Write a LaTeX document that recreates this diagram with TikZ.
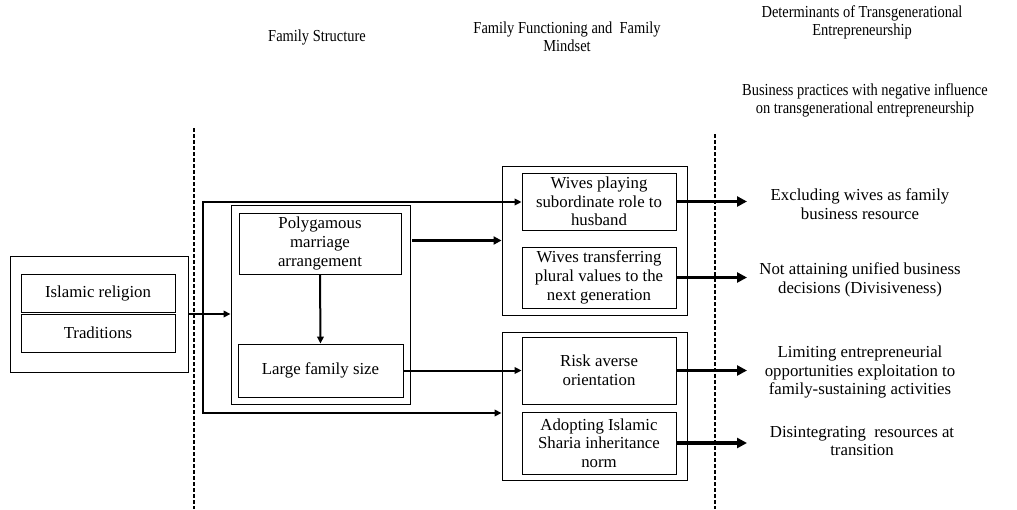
\documentclass[tikz,border=0pt]{standalone}
\usepackage{fontspec}
\setmainfont{Liberation Serif}
\usetikzlibrary{arrows.meta}
\newcommand{\hdrtext}[1]{\scalebox{0.86}[1]{\begin{tabular}{@{}c@{}}#1\end{tabular}}}
\begin{document}
\begin{tikzpicture}[x=1pt,y=-1pt,
  txt/.style={font=\fontsize{16.8}{18.7}\selectfont, align=center, inner sep=0pt},
  hdr/.style={font=\fontsize{16.8}{18.2}\selectfont, inner sep=0pt},
  frame/.style={draw, line width=0.9pt, inner sep=0pt},
  boxnode/.style={draw, line width=0.8pt, txt, minimum width=#1},
  divider/.style={line width=1.1pt, dash pattern=on 4pt off 2pt},
  thin arrow/.style={line width=2pt, -{Triangle[length=7pt,width=6.5pt]}},
  mid arrow/.style={line width=2.8pt, -{Triangle[length=8pt,width=8pt]}},
  bracket/.style={line width=2pt},
  thick arrow/.style={line width=3.2pt, -{Triangle[length=10pt,width=10pt]}}]
\useasboundingbox (0,0) rectangle (1017,509);

% column headings
\node[hdr] (h1) at (317,38) {\hdrtext{Family Structure}};
\node[hdr] (h2) at (567,39) {\hdrtext{Family Functioning and\ \ Family\\Mindset}};
\node[hdr] (h3) at (862,23) {\hdrtext{Determinants of Transgenerational\\Entrepreneurship}};
\node[hdr] (h4) at (865,101) {\hdrtext{Business practices with negative influence\\on transgenerational entrepreneurship}};

% column dividers
\draw[divider] (194,128) -- (194,509);
\draw[divider] (715,134) -- (715,509);

% antecedents
\node[frame, minimum width=178pt, minimum height=116pt] (src) at (99,314) {};
\node[boxnode=154pt, minimum height=38pt] (islam) at (98,293) {Islamic religion};
\node[boxnode=154pt, minimum height=38pt] (trad) at (98,333) {Traditions};

% family structure
\node[frame, minimum width=179pt, minimum height=199pt] (fs) at (320.5,304.5) {};
\node[boxnode=162pt, minimum height=61pt] (poly) at (320,243.5) {Polygamous\\marriage\\arrangement};
\node[boxnode=165pt, minimum height=53pt] (large) at (320.5,370.5) {Large family size};

% family functioning and mindset
\node[frame, minimum width=185pt, minimum height=149pt] (upper) at (594.5,240.5) {};
\node[boxnode=154pt, minimum height=57pt] (wpl) at (599,201.5) {Wives playing\\subordinate role to\\husband};
\node[boxnode=154pt, minimum height=61pt] (wtr) at (599,277.5) {Wives transferring\\plural values to the\\next generation};
\node[frame, minimum width=185pt, minimum height=148pt] (lower) at (594.5,406) {};
\node[boxnode=154pt, minimum height=67pt] (risk) at (599,370.5) {Risk averse\\orientation};
\node[boxnode=154pt, minimum height=62pt] (adopt) at (599,443) {Adopting Islamic\\Sharia inheritance\\norm};

% outcomes
\node[txt] (o1) at (860,204) {Excluding wives as family\\business resource};
\node[txt] (o2) at (860,280) {Not attaining unified business\\decisions (Divisiveness)};
\node[txt] (o3) at (860,372) {Limiting entrepreneurial\\opportunities exploitation to\\family-sustaining activities};
\node[txt] (o4) at (862,441) {Disintegrating\ \ resources at\\transition};

% connectors
\coordinate (bt) at (203,202);
\coordinate (bb) at (203,413);
\coordinate (tipx) at (747,0);

\draw[thin arrow] (src.east) -- (src.east -| fs.west);
\draw[bracket] (bt) -- (bb);
\draw[thin arrow] ([xshift=-1pt]bt) -- (bt -| wpl.west);
\draw[thin arrow] ([xshift=-1pt]bb) -- (bb -| lower.west);
\draw[thin arrow] (poly.south) -- (large.north);
\draw[mid arrow] ([xshift=2pt]fs.east |- upper.west) -- (upper.west);
\draw[thin arrow] (large.east) -- (risk.west);

\draw[thick arrow] (wpl.east) -- (wpl.east -| tipx);
\draw[thick arrow] (wtr.east) -- (wtr.east -| tipx);
\draw[thick arrow] (risk.east) -- (risk.east -| tipx);
\draw[thick arrow] (adopt.east) -- (adopt.east -| tipx);
\end{tikzpicture}
\end{document}
